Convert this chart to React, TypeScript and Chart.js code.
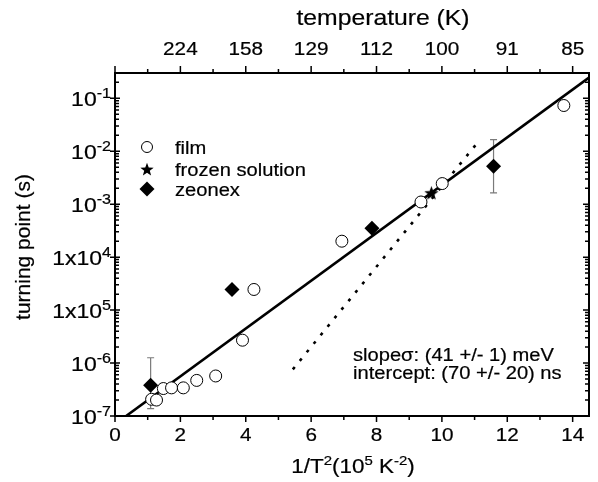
import React, { useEffect, useRef } from "react";
import { Chart, registerables } from "chart.js";
Chart.register(...registerables);

// ---- data ----
const filmX = [1.12, 1.27, 1.48, 1.73, 2.09, 2.5, 3.08, 3.9, 4.25, 6.94, 9.36, 10.01, 13.73];
const filmY = [2.07e-7, 2.0e-7, 3.3e-7, 3.4e-7, 3.4e-7, 4.7e-7, 5.7e-7, 2.7e-6, 2.45e-5, 2.0e-4, 1.1e-3, 2.45e-3, 7.3e-2];
const frozenX = [9.68];
const frozenY = [1.64e-3];
const zeonexX = [1.09, 3.58, 7.86, 11.58];
const zeonexY = [3.8e-7, 2.45e-5, 3.5e-4, 5.2e-3];
const zeonexErrLow = [1.38e-7, null, null, 1.64e-3];
const zeonexErrHigh = [1.26e-6, null, null, 0.0166];
const fitX = [0.34, 14.5];
const fitY = [1e-7, 0.245];
const dotX = [5.44, 11.07];
const dotY = [7.6e-7, 0.014];

const xTicks = [0, 2, 4, 6, 8, 10, 12, 14];
const xMinorTicks = [1, 3, 5, 7, 9, 11, 13];
const topTickPos = [2, 4, 6, 8, 10, 12, 14];
const topTickLabels = ["224", "158", "129", "112", "100", "91", "85"];
const yTickValues = [1e-1, 1e-2, 1e-3, 1e-4, 1e-5, 1e-6, 1e-7];
const yTickBase = ["10", "10", "10", "1x10", "1x10", "10", "10"];
const yTickExp = ["-1", "-2", "-3", "4", "5", "-6", "-7"];
const legendLabels = ["film", "frozen solution", "zeonex"];
const noteLines = ["slope\u03c3: (41 +/- 1) meV", "intercept: (70 +/- 20) ns"];

const FONT = "'Liberation Sans', Arial, sans-serif";
const SX = 1.15;

type Part = { t: string; sup?: boolean };

function drawRich(
  ctx: CanvasRenderingContext2D,
  parts: Part[],
  x: number,
  y: number,
  align: string,
  size: number,
  sx: number,
  supRatio = 0.65
) {
  const supSize = Math.round(size * supRatio);
  let total = 0;
  const widths: number[] = [];
  for (const p of parts) {
    ctx.font = `${p.sup ? supSize : size}px ${FONT}`;
    const w = ctx.measureText(p.t).width;
    widths.push(w);
    total += w;
  }
  ctx.save();
  ctx.translate(x, y);
  ctx.scale(sx, 1);
  let cx = align === "right" ? -total : align === "center" ? -total / 2 : 0;
  ctx.textAlign = "left";
  ctx.textBaseline = "alphabetic";
  ctx.lineWidth = 0.2;
  ctx.strokeStyle = "#000";
  parts.forEach((p, i) => {
    ctx.font = `${p.sup ? supSize : size}px ${FONT}`;
    const yy = p.sup ? -size * 0.42 : 0;
    ctx.fillText(p.t, cx, yy);
    ctx.strokeText(p.t, cx, yy);
    cx += widths[i];
  });
  ctx.restore();
}

function makeStar(r: number) {
  const c = document.createElement("canvas");
  const s = Math.ceil(r * 2 + 2);
  c.width = s;
  c.height = s;
  const g = c.getContext("2d")!;
  g.fillStyle = "#000";
  g.beginPath();
  for (let i = 0; i < 10; i++) {
    const rr = i % 2 === 0 ? r : r * 0.42;
    const a = -Math.PI / 2 + (i * Math.PI) / 5;
    const px = s / 2 + rr * Math.cos(a);
    const py = s / 2 + rr * Math.sin(a) + 0.8;
    if (i === 0) g.moveTo(px, py);
    else g.lineTo(px, py);
  }
  g.closePath();
  g.fill();
  return c;
}

const decorPlugin = {
  id: "decor",
  beforeDatasetsDraw(chart: any) {
    const ctx: CanvasRenderingContext2D = chart.ctx;
    const xs = chart.scales.x;
    const ys = chart.scales.y;
    ctx.save();
    ctx.strokeStyle = "#7a7a7a";
    ctx.lineWidth = 1.2;
    zeonexX.forEach((xv, i) => {
      const lo = zeonexErrLow[i];
      const hi = zeonexErrHigh[i];
      if (lo == null || hi == null) return;
      const px = xs.getPixelForValue(xv);
      const y1 = ys.getPixelForValue(lo);
      const y2 = ys.getPixelForValue(hi);
      ctx.beginPath();
      ctx.moveTo(px, y1);
      ctx.lineTo(px, y2);
      ctx.moveTo(px - 3.5, y1);
      ctx.lineTo(px + 3.5, y1);
      ctx.moveTo(px - 3.5, y2);
      ctx.lineTo(px + 3.5, y2);
      ctx.stroke();
    });
    ctx.restore();
  },
  afterDraw(chart: any) {
    const ctx: CanvasRenderingContext2D = chart.ctx;
    const a = chart.chartArea;
    const xs = chart.scales.x;
    const ys = chart.scales.y;
    ctx.save();
    ctx.strokeStyle = "#000";
    ctx.fillStyle = "#000";
    ctx.lineWidth = 2;
    ctx.strokeRect(a.left, a.top, a.right - a.left, a.bottom - a.top);
    ctx.lineWidth = 1.5;
    ctx.beginPath();
    // bottom / top ticks
    for (const v of xTicks) {
      const px = xs.getPixelForValue(v);
      ctx.moveTo(px, a.bottom);
      ctx.lineTo(px, a.bottom + 6);
      ctx.moveTo(px, a.top);
      ctx.lineTo(px, a.top - 7);
    }
    for (const v of xMinorTicks) {
      const px = xs.getPixelForValue(v);
      ctx.moveTo(px, a.bottom);
      ctx.lineTo(px, a.bottom + 4);
      ctx.moveTo(px, a.top);
      ctx.lineTo(px, a.top - 4);
    }
    // y ticks
    for (let e = -7; e <= -1; e++) {
      const py = ys.getPixelForValue(Math.pow(10, e));
      ctx.moveTo(a.left - 5, py);
      ctx.lineTo(a.left + 5, py);
      ctx.moveTo(a.right, py);
      ctx.lineTo(a.right - 6, py);
      for (let m = 2; m <= 9; m++) {
        const v = m * Math.pow(10, e);
        if (v > ys.max) break;
        const pm = ys.getPixelForValue(v);
        ctx.moveTo(a.left, pm);
        ctx.lineTo(a.left + 4, pm);
        ctx.moveTo(a.right, pm);
        ctx.lineTo(a.right - 4, pm);
      }
    }
    ctx.stroke();

    // bottom labels
    xTicks.forEach((v) => {
      drawRich(ctx, [{ t: String(v) }], xs.getPixelForValue(v), a.bottom + 25, "center", 18, SX);
    });
    // top labels
    topTickPos.forEach((v, i) => {
      drawRich(ctx, [{ t: topTickLabels[i] }], xs.getPixelForValue(v), a.top - 18, "center", 18, SX);
    });
    // y labels
    yTickValues.forEach((v, i) => {
      const py = ys.getPixelForValue(v);
      drawRich(ctx, [{ t: yTickBase[i] }, { t: yTickExp[i], sup: true }], a.left - 4, py + 8, "right", 20, SX, 0.7);
    });
    // titles
    drawRich(ctx, [{ t: "temperature (K)" }], 383, 25, "center", 21.5, SX);
    drawRich(
      ctx,
      [{ t: "1/T" }, { t: "2", sup: true }, { t: "(10" }, { t: "5", sup: true }, { t: " K" }, { t: "-2", sup: true }, { t: ")" }],
      353,
      a.bottom + 57,
      "center",
      19.5,
      SX
    );
    ctx.save();
    ctx.translate(30, 247);
    ctx.rotate(-Math.PI / 2);
    ctx.font = `21px ${FONT}`;
    ctx.textAlign = "center";
    ctx.textBaseline = "alphabetic";
    ctx.lineWidth = 0.2;
    ctx.fillText("turning point (s)", 0, 0);
    ctx.strokeText("turning point (s)", 0, 0);
    ctx.restore();

    // legend
    const lx = 147;
    const rows = [147, 169, 189];
    ctx.lineWidth = 1;
    ctx.beginPath();
    ctx.arc(lx, rows[0], 5.5, 0, Math.PI * 2);
    ctx.stroke();
    const st = makeStar(7);
    ctx.drawImage(st, lx - st.width / 2, rows[1] - st.height / 2);
    ctx.beginPath();
    ctx.moveTo(lx, rows[2] - 7.5);
    ctx.lineTo(lx + 7.5, rows[2]);
    ctx.lineTo(lx, rows[2] + 7.5);
    ctx.lineTo(lx - 7.5, rows[2]);
    ctx.closePath();
    ctx.fill();
    legendLabels.forEach((l, i) => {
      drawRich(ctx, [{ t: l }], 175, rows[i] + 6.5, "left", 17.5, SX);
    });
    // annotation
    noteLines.forEach((l, i) => {
      drawRich(ctx, [{ t: l }], 353, 361 + i * 17.5, "left", 17.5, SX);
    });
    ctx.restore();
  },
};

export default function App() {
  const ref = useRef<HTMLCanvasElement>(null);
  useEffect(() => {
    const star = makeStar(7.5);
    const pts = (xs: number[], ys: number[]) => xs.map((x, i) => ({ x, y: ys[i] }));
    const chart = new Chart(ref.current!, {
      type: "scatter",
      data: {
        datasets: [
          { type: "line", data: pts(fitX, fitY), borderColor: "#000", borderWidth: 2.6, pointRadius: 0, fill: false, order: 5 } as any,
          { type: "line", data: pts(dotX, dotY), borderColor: "#000", borderWidth: 2.6, borderDash: [3, 8], pointRadius: 0, fill: false, order: 4 } as any,
          { data: pts(filmX, filmY), pointStyle: "circle", pointRadius: 6, backgroundColor: "#fff", borderColor: "#000", borderWidth: 1, order: 3 },
          { data: pts(frozenX, frozenY), pointStyle: star as any, pointRadius: 7, order: 2 },
          { data: pts(zeonexX, zeonexY), pointStyle: "rectRot", pointRadius: 7.5, backgroundColor: "#000", borderColor: "#000", borderWidth: 0, order: 1 },
        ],
      },
      options: {
        responsive: false,
        animation: false,
        layout: { padding: { left: 115, top: 73, right: 9, bottom: 66 } },
        plugins: { legend: { display: false }, tooltip: { enabled: false } },
        scales: {
          x: { type: "linear", min: 0, max: 14.5, display: false },
          y: { type: "logarithmic", min: 1e-7, max: 0.3, display: false },
        },
      },
      plugins: [decorPlugin],
    });
    return () => chart.destroy();
  }, []);
  return (
    <div style={{ position: "fixed", left: 0, top: 0, width: 598, height: 482, background: "#fff" }}>
      <canvas ref={ref} width={598} height={482} style={{ width: 598, height: 482 }} />
    </div>
  );
}
